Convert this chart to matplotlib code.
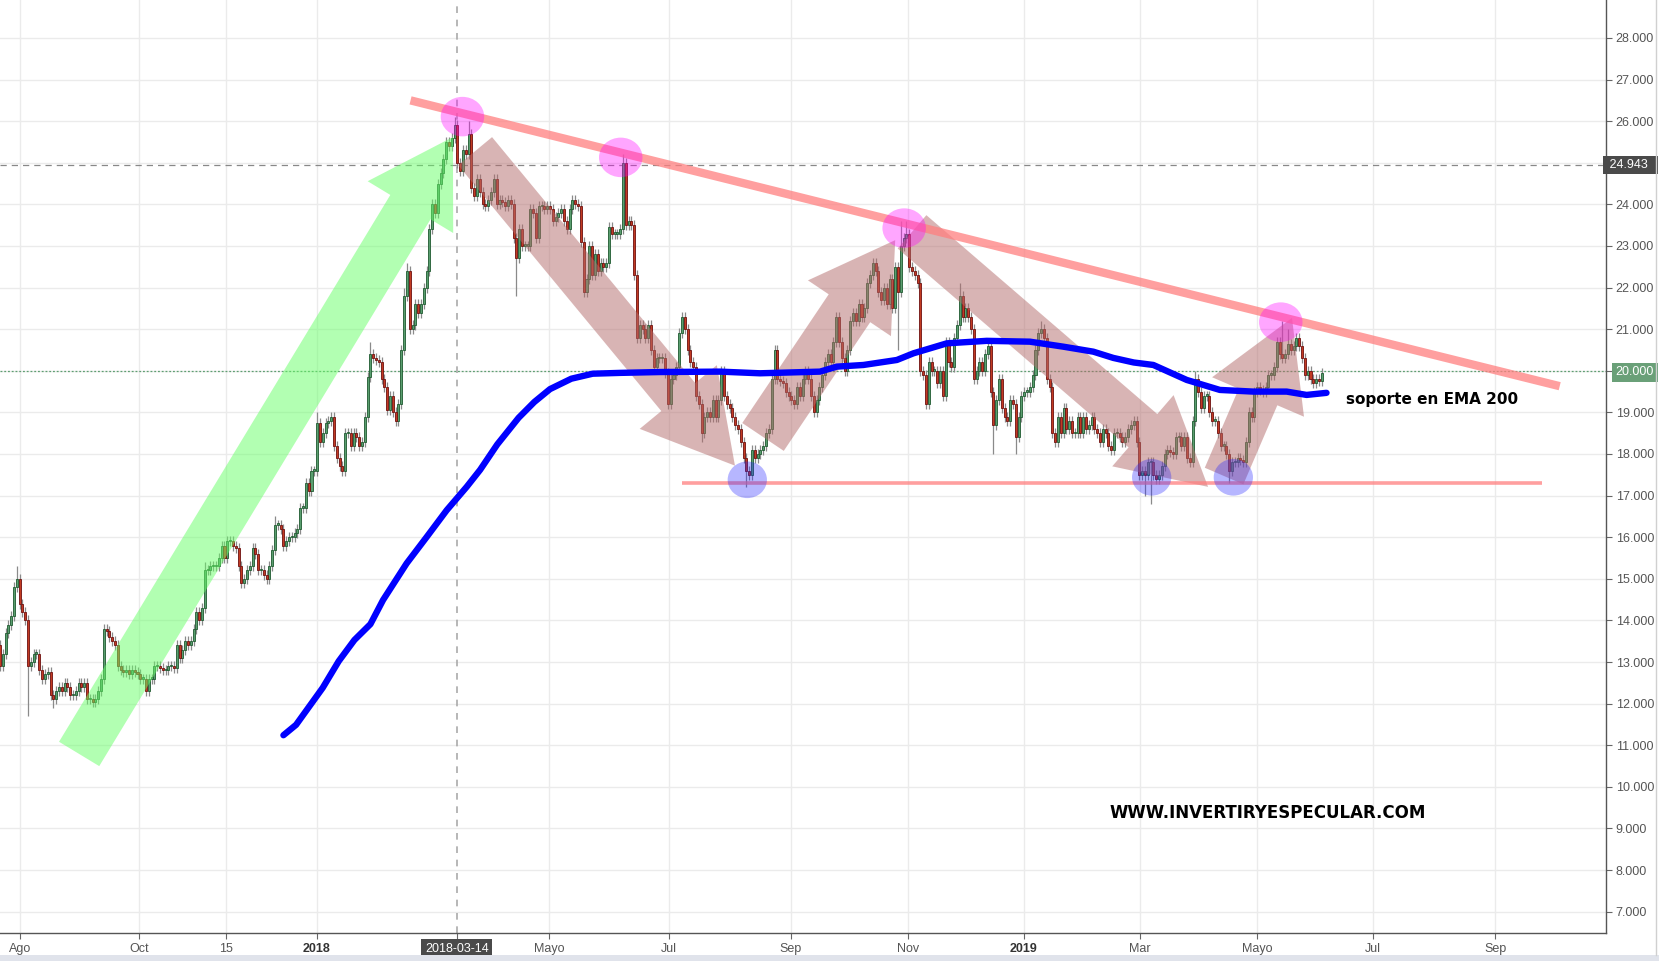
import numpy as np
import matplotlib
matplotlib.use('Agg')
import matplotlib.pyplot as plt
from matplotlib.patches import Polygon, Ellipse, Rectangle
from matplotlib.lines import Line2D

# daily closes, one per trading day (Ago 2017 .. Jun 2019)
closes = [
    12.9, 13.2, 13.7, 13.9, 14.1, 14.8, 15.0, 14.4, 14.2, 14.0,
    12.9, 13.0, 13.2, 13.2, 12.8, 12.6, 12.7, 12.75, 12.2, 12.1,
    12.3, 12.4, 12.3, 12.5, 12.4, 12.2, 12.2, 12.3, 12.5, 12.4,
    12.5, 12.1, 12.1, 12.05, 12.1, 12.3, 12.6, 13.8, 13.75, 13.6,
    13.5, 13.4, 12.9, 12.8, 12.75, 12.8, 12.7, 12.8, 12.75, 12.7,
    12.6, 12.6, 12.3, 12.6, 12.6, 12.9, 12.9, 12.85, 12.8, 12.8,
    12.9, 12.9, 12.85, 13.4, 13.1, 13.3, 13.5, 13.4, 13.5, 13.8,
    14.2, 14.0, 14.3, 15.2, 15.2, 15.3, 15.3, 15.3, 15.5, 15.8,
    15.5, 15.9, 15.9, 15.8, 15.75, 15.3, 14.9, 15.0, 15.2, 15.3,
    15.75, 15.6, 15.2, 15.2, 15.1, 15.0, 15.3, 15.7, 16.3, 16.3,
    16.2, 15.8, 15.9, 16.0, 16.0, 16.1, 16.2, 16.7, 16.7, 17.3,
    17.1, 17.6, 17.6, 18.75, 18.3, 18.5, 18.75, 18.8, 18.9, 18.2,
    17.9, 17.7, 17.6, 18.5, 18.5, 18.2, 18.5, 18.4, 18.2, 18.3,
    18.9, 19.85, 20.4, 20.3, 20.25, 20.2, 19.8, 19.6, 19.05, 19.4,
    19.0, 18.8, 19.2, 20.5, 21.8, 22.4, 21.0, 21.1, 21.6, 21.4,
    21.6, 22.0, 22.4, 23.4, 24.0, 23.8, 24.5, 24.75, 25.1, 25.5,
    25.4, 25.6, 25.9, 25.0, 24.8, 25.3, 25.2, 25.7, 24.4, 24.2,
    24.6, 24.3, 24.0, 23.95, 24.1, 24.3, 24.6, 24.0, 24.1, 24.05,
    23.95, 24.1, 24.0, 23.2, 22.7, 23.4, 23.0, 23.0, 23.0, 23.9,
    23.8, 23.2, 23.95, 23.95, 23.9, 23.95, 23.9, 23.6, 23.7, 23.8,
    23.9, 23.6, 23.4, 23.9, 24.1, 24.0, 23.95, 23.1, 21.9, 22.2,
    23.0, 22.3, 22.8, 22.4, 22.6, 22.5, 22.6, 23.45, 23.3, 23.3,
    23.3, 23.4, 25.0, 23.5, 23.6, 23.5, 22.3, 20.8, 21.1, 21.0,
    20.8, 21.1, 20.5, 20.1, 20.3, 20.3, 20.3, 19.95, 19.2, 19.8,
    19.9, 20.1, 20.9, 21.3, 21.0, 20.5, 20.2, 20.1, 19.4, 19.2,
    18.5, 18.9, 19.0, 18.9, 19.3, 18.9, 19.3, 20.0, 19.4, 19.2,
    19.1, 18.9, 18.7, 18.6, 18.3, 17.9, 17.6, 17.5, 18.1, 17.9,
    18.0, 18.1, 18.2, 18.5, 18.6, 19.8, 20.5, 19.8, 19.75, 19.7,
    19.5, 19.4, 19.3, 19.2, 19.6, 19.4, 19.8, 20.0, 19.8, 19.4,
    19.0, 19.3, 19.6, 19.9, 20.2, 20.4, 20.2, 20.7, 21.3, 20.7,
    20.3, 20.0, 20.5, 21.2, 21.4, 21.2, 21.6, 21.3, 21.5, 22.1,
    22.3, 22.6, 22.4, 21.9, 21.7, 22.0, 21.6, 22.2, 21.5, 22.5,
    21.9, 23.0, 23.2, 23.3, 22.5, 22.4, 22.3, 22.1, 20.0, 19.9,
    19.2, 20.2, 20.0, 20.0, 19.7, 20.0, 19.4, 20.7, 20.2, 20.1,
    20.8, 21.1, 21.8, 21.3, 21.5, 21.3, 21.0, 19.8, 20.0, 20.2,
    20.0, 20.4, 20.6, 19.5, 18.7, 19.3, 19.8, 19.1, 18.9, 18.8,
    19.3, 19.2, 18.4, 18.9, 19.4, 19.5, 19.5, 19.6, 19.9, 20.5,
    20.9, 21.0, 20.8, 19.8, 19.6, 18.5, 18.3, 18.9, 18.5, 19.1,
    18.6, 18.8, 18.5, 18.5, 18.9, 18.5, 18.9, 18.6, 18.7, 18.9,
    18.6, 18.5, 18.3, 18.6, 18.5, 18.2, 18.1, 18.5, 18.5, 18.4,
    18.3, 18.4, 18.6, 18.7, 18.8, 18.3, 17.5, 17.6, 17.5, 17.8,
    17.8, 17.5, 17.4, 17.5, 17.7, 18.0, 18.1, 18.05, 18.0, 18.4,
    18.4, 18.2, 18.4, 17.9, 17.8, 18.8, 19.8, 19.5, 19.1, 19.4,
    19.4, 19.0, 18.8, 18.8, 18.5, 18.2, 18.2, 18.0, 17.6, 17.8,
    17.8, 17.9, 17.85, 17.8, 18.3, 19.0, 18.9, 19.5, 19.6, 19.55,
    19.5, 19.6, 19.9, 19.9, 20.1, 20.7, 20.4, 20.3, 20.4, 20.65,
    20.5, 20.6, 20.8, 20.6, 20.3, 19.9, 20.0, 19.8, 19.7, 19.8,
    19.75, 19.95,
]
first_open = 13.4
# long shadows
high_marks = {6: 15.3, 73: 15.4, 98: 16.5, 113: 19.0, 132: 20.7, 144: 22.0,
              145: 22.6, 162: 26.1, 167: 26.0, 222: 25.2, 321: 23.6, 323: 23.6,
              342: 22.1, 371: 21.2, 426: 20.0, 457: 21.2, 459: 21.0}
low_marks = {10: 11.7, 19: 11.9, 184: 21.8, 250: 18.3, 266: 17.2, 320: 20.5,
             354: 18.0, 362: 18.0, 408: 17.0, 410: 16.8, 438: 17.3}

# EMA 200 (bar index, price)
ema_x = [101, 105.5, 115, 120.7, 126.3, 132, 136.5, 144.9, 152.1, 159.2, 166.3,
         171.1, 177.2, 184.8, 190.4, 196, 203.6, 211.2, 221, 235, 256.6, 270.8,
         292.2, 298.2, 307.7, 319.6, 325.5, 337.4, 351.6, 367, 378.9, 389.6,
         396.7, 404, 411, 422.9, 434.7, 446.6, 458.5, 465.6, 472.7]
ema_v = [11.24, 11.49, 12.38, 13.02, 13.53, 13.91, 14.49, 15.37, 16.01, 16.65, 17.21,
         17.62, 18.23, 18.87, 19.25, 19.56, 19.81, 19.93, 19.95, 19.97, 19.98, 19.94,
         19.98, 20.1, 20.14, 20.26, 20.42, 20.66, 20.72, 20.70, 20.58, 20.46,
         20.31, 20.2, 20.14, 19.78, 19.54, 19.50, 19.50, 19.42, 19.47]

date_pos = [7.2, 49.6, 80.7, 112.8, 162.8, 195.6, 238.3, 281.7, 323.5, 364.9,
            406.2, 448.1, 489.2, 532.9]
date_labels = ['Ago', 'Oct', '15', '2018', '2018-03-14', 'Mayo', 'Jul', 'Sep',
               'Nov', '2019', 'Mar', 'Mayo', 'Jul', 'Sep']
price_ticks = list(range(7, 29))
last_price = 24.943
cursor_bar = 162.8

# annotation drawing (bar index, price)
peaks = [(164.8, 26.11), (221.2, 25.13), (322.2, 23.43), (456.4, 21.17)]
troughs = [(266.3, 17.38), (410.4, 17.44), (439.5, 17.44)]
resistance = [(146.3, 26.50), (555.8, 19.63)]
support = [(243.2, 17.31), (549.4, 17.31)]

PX_X = 2.806   # pixels per bar
PX_Y = 41.6    # pixels per price unit


def arrow_poly(tail, tip, shaft_w, head_w, head_l):
    x0, y0 = tail[0] * PX_X, tail[1] * PX_Y
    x1, y1 = tip[0] * PX_X, tip[1] * PX_Y
    L = np.hypot(x1 - x0, y1 - y0)
    ux, uy = (x1 - x0) / L, (y1 - y0) / L
    px, py = -uy, ux
    bx, by = x1 - ux * head_l, y1 - uy * head_l
    pts = [(x0 + px * shaft_w / 2, y0 + py * shaft_w / 2),
           (bx + px * shaft_w / 2, by + py * shaft_w / 2),
           (bx + px * head_w / 2, by + py * head_w / 2),
           (x1, y1),
           (bx - px * head_w / 2, by - py * head_w / 2),
           (bx - px * shaft_w / 2, by - py * shaft_w / 2),
           (x0 - px * shaft_w / 2, y0 - py * shaft_w / 2)]
    return [(a / PX_X, b / PX_Y) for a, b in pts]


fig = plt.figure(figsize=(16.59, 9.61), dpi=100)
fig.patch.set_facecolor('white')
ax = fig.add_axes([0, 28 / 961, 1606 / 1659, 933 / 961])
ax.set_xlim(0, 572.3)
ax.set_ylim(6.486, 28.913)

# grid
for p in date_pos:
    if p != cursor_bar:
        ax.axvline(p, color='#ebebeb', lw=1, zorder=0)
for v in price_ticks:
    ax.axhline(v, color='#ebebeb', lw=1, zorder=0)

# candles
x = np.arange(len(closes))
c = np.array(closes)
o = np.array([first_open] + closes[:-1])
hi = np.maximum(o, c) + 0.12
lo = np.minimum(o, c) - 0.12
for k, v in high_marks.items():
    hi[k] = v
for k, v in low_marks.items():
    lo[k] = v
up = c >= o
ax.vlines(x, lo, hi, color='#8a8a8a', lw=0.9, zorder=2)
body_h = np.maximum(np.abs(c - o), 0.04)
body_b = np.minimum(o, c)
ax.bar(x[up], body_h[up], bottom=body_b[up], width=0.72, color='#5a9e6f',
       edgecolor='#1f5a30', linewidth=0.6, zorder=3)
ax.bar(x[~up], body_h[~up], bottom=body_b[~up], width=0.72, color='#c23b22',
       edgecolor='#6e1010', linewidth=0.6, zorder=3)

# crosshair / price lines
ax.axvline(cursor_bar, color='#aaaaaa', lw=1.2, ls=(0, (4, 4)), zorder=1)
ax.axhline(last_price, color='#888888', lw=0.9, ls=(0, (5, 4)), zorder=1)
ax.axhline(20.0, color='#5f9f72', lw=0.9, ls=(0, (1.5, 1.5)), zorder=1)

# arrows
ax.add_patch(Polygon(arrow_poly((28.2, 10.79), (161.4, 25.62), 47, 100, 82),
                     closed=True, facecolor='#66ff66', alpha=0.5, lw=0, zorder=4))
brown = [((169.3, 25.28), (261.9, 17.72), 44, 100, 89),
         ((271.9, 18.41), (319.0, 23.14), 50, 100, 82),
         ((325.0, 23.34), (430.5, 17.21), 44, 94, 86),
         ((436.2, 17.47), (460.4, 21.27), 42, 100, 86)]
for tail, tip, sw, hw, hl in brown:
    ax.add_patch(Polygon(arrow_poly(tail, tip, sw, hw, hl), closed=True,
                         facecolor='#b36b6b', alpha=0.5, lw=0, zorder=4))

# trend lines
ax.plot([p[0] for p in resistance], [p[1] for p in resistance], color='#ff7f7f',
        alpha=0.75, lw=6, solid_capstyle='butt', zorder=5)
ax.plot([p[0] for p in support], [p[1] for p in support], color='#ff7f7f',
        alpha=0.75, lw=2.6, solid_capstyle='butt', zorder=5)

# EMA 200
ax.plot(ema_x, ema_v, color='#0000ff', lw=4.6, solid_capstyle='round',
        solid_joinstyle='round', zorder=6)

# circles
for bx, bv in peaks:
    ax.add_patch(Ellipse((bx, bv), 15.5, 0.95, facecolor='#ff00ff', alpha=0.35,
                         lw=0, zorder=7))
for bx, bv in troughs:
    ax.add_patch(Ellipse((bx, bv), 14.0, 0.88, facecolor='#2222ff', alpha=0.33,
                         lw=0, zorder=7))

# texts
ax.text(510.3, 19.30, 'soporte en EMA 200', fontsize=11, fontweight='bold',
        family='DejaVu Sans', color='black', ha='center', va='center', zorder=8)
ax.text(451.9, 9.38, 'WWW.INVERTIRYESPECULAR.COM', fontsize=12, fontweight='bold',
        family='DejaVu Sans', color='black', ha='center', va='center', zorder=8)

# axes styling
for s in ['left', 'top']:
    ax.spines[s].set_visible(False)
for s in ['right', 'bottom']:
    ax.spines[s].set_color('#555555')
    ax.spines[s].set_linewidth(1.0)
ax.yaxis.tick_right()
ax.set_yticks(price_ticks)
# 25.000 sits under the last-price box
ax.set_yticklabels(['' if v == 25 else '%.3f' % v for v in price_ticks])
ax.tick_params(axis='y', length=4, width=0.8, color='#666666', pad=3,
               labelsize=9, labelcolor='#555555')
ax.set_xticks(date_pos)
ax.set_xticklabels(date_labels)
ax.tick_params(axis='x', length=4, width=0.8, color='#666666', pad=3,
               labelsize=9, labelcolor='#555555')
for lab in ax.get_xticklabels() + ax.get_yticklabels():
    lab.set_family('Liberation Sans')
for lab in ax.get_xticklabels():
    if lab.get_text() in ('2018', '2019'):
        lab.set_fontweight('bold')
        lab.set_color('#333333')
    if lab.get_text() == '2018-03-14':
        lab.set_color('white')
        lab.set_bbox(dict(facecolor='#4a4a4a', edgecolor='none', pad=2.5))
for lab in ax.get_yticklabels():
    if lab.get_text() == '20.000':
        lab.set_color('white')
        lab.set_bbox(dict(facecolor='#6aa078', edgecolor='none', pad=2.5))

ax.text(1.0, last_price, ' %.3f  ' % last_price, transform=ax.get_yaxis_transform(),
        ha='left', va='center', fontsize=9, family='Liberation Sans', color='white',
        bbox=dict(facecolor='#4a4a4a', edgecolor='none', pad=2.2), clip_on=False,
        zorder=9)

# bottom strip and right border
fig.add_artist(Rectangle((0, 0), 1, 6 / 961, transform=fig.transFigure,
                         facecolor='#e0e3eb', edgecolor='none'))
fig.add_artist(Line2D([1656 / 1659, 1656 / 1659], [6 / 961, 1], transform=fig.transFigure,
                      color='#d0d0d0', lw=1))

fig.savefig('out.png', dpi=100)
